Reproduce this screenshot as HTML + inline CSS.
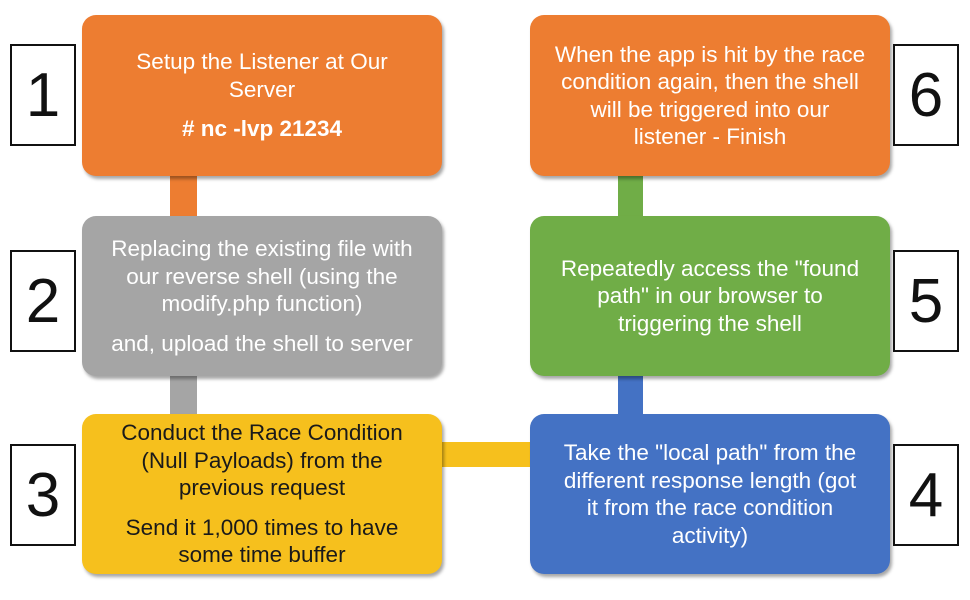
<!DOCTYPE html>
<html><head><meta charset="utf-8"><style>
html,body{margin:0;padding:0;background:#fff;}
body{width:970px;height:600px;position:relative;overflow:hidden;font-family:"Liberation Sans",sans-serif;}
.b{position:absolute;border-radius:14px;color:#fff;display:flex;flex-direction:column;justify-content:center;align-items:center;text-align:center;font-size:22.5px;line-height:27.5px;box-shadow:2px 3px 3px rgba(0,0,0,0.35);box-sizing:border-box;white-space:nowrap;}
.b p{margin:0 0 12px 0;}
.b p:last-child{margin:0;}
.c{position:absolute;}
.n{position:absolute;width:66px;height:102px;border:2px solid #111;box-sizing:border-box;background:#fff;font-size:62px;color:#111;display:flex;align-items:center;justify-content:center;}
</style></head><body>
<div class="c" style="left:170px;top:170px;width:27px;height:52px;background:#ed7d31"></div>
<div class="c" style="left:170px;top:370px;width:27px;height:50px;background:#a5a5a5"></div>
<div class="c" style="left:436px;top:442px;width:100px;height:25px;background:#f6c01d"></div>
<div class="c" style="left:618px;top:370px;width:25px;height:50px;background:#4472c4"></div>
<div class="c" style="left:618px;top:170px;width:25px;height:52px;background:#70ad47"></div>

<div class="b" style="left:82px;top:15px;width:360px;height:161px;background:#ed7d31"><p>Setup the Listener at Our<br>Server</p><p style="font-weight:bold">#&nbsp;nc -lvp 21234</p></div>
<div class="b" style="left:82px;top:216px;width:360px;height:160px;background:#a5a5a5"><p>Replacing the existing file with<br>our reverse shell (using the<br>modify.php function)</p><p>and, upload the shell to server</p></div>
<div class="b" style="left:82px;top:414px;width:360px;height:160px;background:#f6c01d;color:#1a1a1a"><p>Conduct the Race Condition<br>(Null Payloads) from the<br>previous request</p><p>Send it 1,000 times to have<br>some time buffer</p></div>
<div class="b" style="left:530px;top:414px;width:360px;height:160px;background:#4472c4"><p>Take the "local path" from the<br>different response length (got<br>it from the race condition<br>activity)</p></div>
<div class="b" style="left:530px;top:216px;width:360px;height:160px;background:#70ad47"><p>Repeatedly access the "found<br>path" in our browser to<br>triggering the shell</p></div>
<div class="b" style="left:530px;top:15px;width:360px;height:161px;background:#ed7d31"><p>When the app is hit by the race<br>condition again, then the shell<br>will be triggered into our<br>listener - Finish</p></div>

<div class="n" style="left:10px;top:44px">1</div>
<div class="n" style="left:10px;top:250px">2</div>
<div class="n" style="left:10px;top:444px">3</div>
<div class="n" style="left:893px;top:444px">4</div>
<div class="n" style="left:893px;top:250px">5</div>
<div class="n" style="left:893px;top:44px">6</div>
</body></html>
